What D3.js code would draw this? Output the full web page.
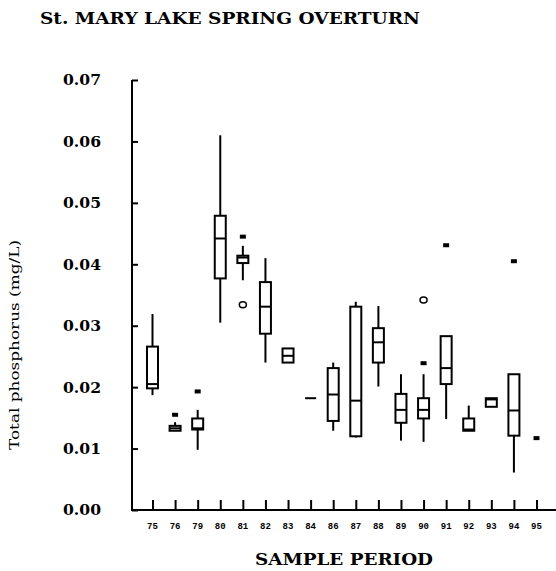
<!DOCTYPE html>
<html><head><meta charset="utf-8">
<script src="https://cdn.jsdelivr.net/npm/d3@7/dist/d3.min.js"></script>
<style>body{margin:0;background:#fff}svg{display:block}</style>
</head><body>
<script>
// ---- data ----
const periods = ["75","76","79","80","81","82","83","84","86","87","88","89","90","91","92","93","94","95"];
const whiskLow  = [0.0187,0.0129,0.0098,0.0305,0.0374,0.0240,0.0240,0.0182,0.0129,0.0118,0.0201,0.0113,0.0111,0.0148,0.0129,0.0168,0.0061,null];
const q1        = [0.0198,0.0129,0.0131,0.0377,0.0402,0.0287,0.0240,0.0182,0.0145,0.0120,0.0240,0.0142,0.0149,0.0205,0.0129,0.0168,0.0121,null];
const median    = [0.0205,0.0133,0.0133,0.0442,0.0411,0.0331,0.0251,0.0182,0.0188,0.0178,0.0273,0.0163,0.0163,0.0231,0.0131,0.0180,0.0162,null];
const q3        = [0.0266,0.0137,0.0149,0.0479,0.0414,0.0371,0.0263,0.0182,0.0231,0.0331,0.0296,0.0189,0.0182,0.0283,0.0149,0.0182,0.0221,null];
const whiskHigh = [0.0319,0.0143,0.0163,0.0610,0.0430,0.0410,0.0263,0.0182,0.0240,0.0339,0.0332,0.0221,0.0221,0.0283,0.0170,0.0182,0.0221,null];
const outPeriod = ["76","79","81","81","90","90","91","94","95"];
const outValue  = [0.0155,0.0193,0.0445,0.0334,0.0342,0.0239,0.0431,0.0405,0.0117];
const outKind   = ["far","far","far","near","near","far","far","far","far"];
const yTicks = [0,0.01,0.02,0.03,0.04,0.05,0.06,0.07];

const W = 556, H = 571;
const svg = d3.select("body").append("svg").attr("width", W).attr("height", H);

const x = d3.scalePoint().domain(periods).range([152.5, 536.5]);
const y = d3.scaleLinear().domain([0, 0.07]).range([510, 80]);
const bw = 11;

const mono = "'Liberation Mono', 'DejaVu Sans Mono', monospace";
const serif = "'DejaVu Serif', 'Liberation Serif', serif";

// title
svg.append("text").attr("x", 40).attr("y", 24)
  .attr("font-family", serif).attr("font-weight", "bold").attr("font-size", 17)
  .attr("textLength", 380).attr("lengthAdjust", "spacingAndGlyphs")
  .text("St. MARY LAKE SPRING OVERTURN");

// y axis
const yAxis = d3.axisRight(y).tickValues(yTicks).tickSize(6).tickFormat("");
const gy = svg.append("g").attr("transform", "translate(132,0)").call(yAxis);
gy.select(".domain").attr("d", `M0,${y(0.07)}V${y(0)}`).attr("stroke", "#000").attr("stroke-width", 2);
gy.selectAll(".tick line").attr("stroke", "#000").attr("stroke-width", 2);

svg.append("g").selectAll("text").data(yTicks).join("text")
  .attr("x", 101).attr("y", d => y(d)).attr("dy", "0.36em")
  .attr("text-anchor", "end")
  .attr("font-family", serif).attr("font-weight", "bold").attr("font-size", 15)
  .attr("textLength", 38).attr("lengthAdjust", "spacingAndGlyphs")
  .text(d => d.toFixed(2));

// x axis
const xAxis = d3.axisTop(x).tickSize(10).tickFormat("");
const gx = svg.append("g").attr("transform", "translate(0,510)").call(xAxis);
gx.select(".domain").attr("d", `M131,0H556`).attr("stroke", "#000").attr("stroke-width", 2);
gx.selectAll(".tick line").attr("stroke", "#000").attr("stroke-width", 2);

svg.append("g").selectAll("text").data(periods).join("text")
  .attr("x", d => x(d)).attr("y", 529)
  .attr("text-anchor", "middle")
  .attr("font-family", mono).attr("font-weight", "bold").attr("font-size", 9)
  .text(d => d);

// axis titles
svg.append("text").attr("x", 344).attr("y", 565).attr("text-anchor", "middle")
  .attr("font-family", serif).attr("font-weight", "bold").attr("font-size", 17)
  .attr("textLength", 178).attr("lengthAdjust", "spacingAndGlyphs")
  .text("SAMPLE PERIOD");

svg.append("text").attr("transform", "translate(19,345) rotate(-90)")
  .attr("text-anchor", "middle")
  .attr("font-family", serif).attr("font-size", 13)
  .attr("textLength", 210).attr("lengthAdjust", "spacingAndGlyphs")
  .text("Total phosphorus (mg/L)");

// boxes
const boxes = periods.map((p, i) => ({p, lo: whiskLow[i], q1: q1[i], med: median[i], q3: q3[i], hi: whiskHigh[i]}))
  .filter(d => d.med !== null);
const g = svg.append("g").attr("stroke", "#000").attr("stroke-width", 2).attr("fill", "none");
const bg = g.selectAll("g").data(boxes).join("g");
bg.append("line").attr("x1", d => x(d.p)).attr("x2", d => x(d.p))
  .attr("y1", d => y(d.hi)).attr("y2", d => y(d.q3));
bg.append("line").attr("x1", d => x(d.p)).attr("x2", d => x(d.p))
  .attr("y1", d => y(d.q1)).attr("y2", d => y(d.lo));
bg.append("rect").attr("x", d => x(d.p) - bw / 2).attr("width", bw)
  .attr("y", d => y(d.q3)).attr("height", d => y(d.q1) - y(d.q3));
bg.append("line").attr("x1", d => x(d.p) - bw / 2).attr("x2", d => x(d.p) + bw / 2)
  .attr("y1", d => y(d.med)).attr("y2", d => y(d.med));

// outliers
const outs = outPeriod.map((p, i) => ({p, v: outValue[i], k: outKind[i]}));
svg.append("g").selectAll("rect").data(outs.filter(d => d.k === "far")).join("rect")
  .attr("x", d => x(d.p) - 3).attr("y", d => y(d.v) - 2).attr("width", 6).attr("height", 4)
  .attr("fill", "#000");
svg.append("g").selectAll("ellipse").data(outs.filter(d => d.k === "near")).join("ellipse")
  .attr("cx", d => x(d.p)).attr("cy", d => y(d.v)).attr("rx", 3.5).attr("ry", 3)
  .attr("fill", "none").attr("stroke", "#000").attr("stroke-width", 1.5);
</script>
</body></html>
